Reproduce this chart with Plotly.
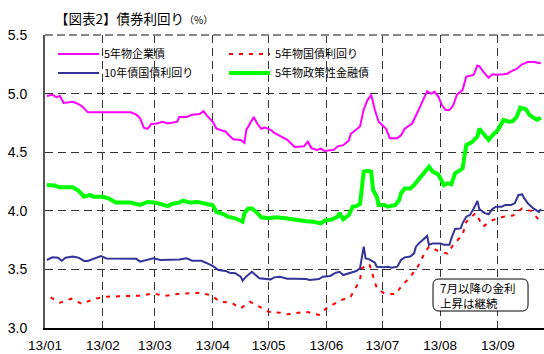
import plotly.graph_objects as go

# 5年物企業債
corp_dates = ["2013-01-02","2013-01-05","2013-01-07","2013-01-09","2013-01-11","2013-01-16","2013-01-19","2013-01-21","2013-01-24",
              "2013-02-01","2013-02-06","2013-02-16","2013-02-19","2013-02-21","2013-02-23","2013-02-25","2013-02-27",
              "2013-03-02","2013-03-05","2013-03-08","2013-03-13","2013-03-14","2013-03-18","2013-03-21","2013-03-25","2013-03-27","2013-03-29",
              "2013-04-01","2013-04-03","2013-04-08","2013-04-09","2013-04-12","2013-04-16","2013-04-18","2013-04-19","2013-04-23","2013-04-25","2013-04-27","2013-04-29",
              "2013-05-02","2013-05-04","2013-05-08","2013-05-11","2013-05-14","2013-05-15","2013-05-20","2013-05-22","2013-05-24","2013-05-27","2013-05-29","2013-05-31",
              "2013-06-05","2013-06-07","2013-06-10","2013-06-13","2013-06-14","2013-06-17","2013-06-19","2013-06-21","2013-06-23","2013-06-25","2013-06-27","2013-06-29",
              "2013-07-01","2013-07-03","2013-07-05","2013-07-09","2013-07-11","2013-07-13","2013-07-17","2013-07-19","2013-07-21","2013-07-25","2013-07-27","2013-07-29","2013-07-31",
              "2013-08-02","2013-08-04","2013-08-06","2013-08-08","2013-08-10","2013-08-13","2013-08-15","2013-08-19","2013-08-21","2013-08-22","2013-08-24","2013-08-27","2013-08-29","2013-08-31",
              "2013-09-04","2013-09-06","2013-09-08","2013-09-11","2013-09-14","2013-09-17","2013-09-21","2013-09-23","2013-09-24"]
corp_vals = [4.98,4.99,4.97,4.98,4.92,4.93,4.91,4.89,4.84,
             4.84,4.845,4.84,4.82,4.79,4.71,4.70,4.74,
             4.745,4.76,4.745,4.76,4.80,4.80,4.82,4.825,4.85,4.81,
             4.76,4.70,4.675,4.655,4.61,4.605,4.58,4.69,4.80,4.74,4.70,4.71,
             4.69,4.665,4.63,4.605,4.56,4.545,4.55,4.59,4.533,4.52,4.53,4.51,
             4.52,4.55,4.56,4.60,4.655,4.69,4.72,4.865,4.945,4.99,4.86,4.76,
             4.73,4.70,4.62,4.62,4.645,4.70,4.745,4.81,4.88,5.02,5.00,5.015,4.975,
             4.90,4.86,4.86,4.90,4.99,5.03,5.145,5.16,5.24,5.235,5.19,5.135,5.165,5.16,
             5.165,5.17,5.19,5.21,5.25,5.27,5.27,5.26,5.265]

# 5年物国債利回り
jgb5_dates = ["2013-01-04","2013-01-09","2013-01-15","2013-01-21","2013-01-27","2013-02-03","2013-02-09","2013-02-16","2013-02-22","2013-02-28",
              "2013-03-06","2013-03-13","2013-03-19","2013-03-24","2013-03-31","2013-04-05","2013-04-11","2013-04-16","2013-04-21","2013-04-26",
              "2013-05-01","2013-05-07","2013-05-11","2013-05-15","2013-05-21","2013-05-28","2013-06-01","2013-06-08","2013-06-14","2013-06-19",
              "2013-06-20","2013-06-24","2013-06-26","2013-06-28","2013-07-02","2013-07-08","2013-07-11","2013-07-16","2013-07-20","2013-07-24",
              "2013-07-26","2013-07-31","2013-08-05","2013-08-08","2013-08-13","2013-08-15","2013-08-20","2013-08-24","2013-08-29","2013-09-04",
              "2013-09-09","2013-09-14","2013-09-19","2013-09-23","2013-09-25"]
jgb5_vals = [3.262,3.216,3.25,3.205,3.247,3.267,3.27,3.27,3.276,3.296,
             3.273,3.29,3.296,3.301,3.28,3.224,3.216,3.168,3.224,3.182,
             3.139,3.131,3.117,3.125,3.139,3.111,3.168,3.233,3.267,3.41,
             3.51,3.546,3.438,3.339,3.296,3.287,3.352,3.438,3.523,3.651,
             3.694,3.657,3.634,3.71,3.794,3.907,3.98,3.866,3.92,3.95,
             3.959,4.02,3.998,3.92,3.93]

# 10年債国債利回り
jgb10_dates = ["2013-01-02","2013-01-05","2013-01-08","2013-01-10","2013-01-12","2013-01-16","2013-01-19","2013-01-22","2013-01-24","2013-01-27","2013-01-31",
               "2013-02-03","2013-02-10","2013-02-19","2013-02-21","2013-02-25","2013-02-28",
               "2013-03-04","2013-03-08","2013-03-14","2013-03-18","2013-03-21","2013-03-26","2013-03-30",
               "2013-04-01","2013-04-04","2013-04-08","2013-04-10","2013-04-13","2013-04-16","2013-04-17","2013-04-19","2013-04-22","2013-04-24","2013-04-26",
               "2013-05-02","2013-05-04","2013-05-07","2013-05-11","2013-05-15","2013-05-21","2013-05-23","2013-05-26","2013-05-28","2013-05-30",
               "2013-06-03","2013-06-06","2013-06-08","2013-06-10","2013-06-13","2013-06-17","2013-06-19","2013-06-21","2013-06-22","2013-06-24","2013-06-27","2013-06-28",
               "2013-07-02","2013-07-04","2013-07-06","2013-07-09","2013-07-11","2013-07-13","2013-07-16","2013-07-18","2013-07-19","2013-07-21","2013-07-25","2013-07-26","2013-07-28",
               "2013-08-01","2013-08-03","2013-08-06","2013-08-07","2013-08-09","2013-08-12","2013-08-13","2013-08-15","2013-08-17","2013-08-19","2013-08-21","2013-08-22","2013-08-25","2013-08-27","2013-08-29","2013-08-31",
               "2013-09-03","2013-09-05","2013-09-08","2013-09-10","2013-09-12","2013-09-14","2013-09-15","2013-09-17","2013-09-20","2013-09-23","2013-09-24"]
jgb10_vals = [3.58,3.603,3.60,3.574,3.60,3.61,3.60,3.572,3.572,3.59,3.614,
              3.594,3.59,3.59,3.566,3.58,3.594,
              3.58,3.58,3.585,3.594,3.574,3.574,3.546,
              3.53,3.495,3.487,3.472,3.467,3.438,3.404,3.44,3.48,3.452,3.424,
              3.415,3.432,3.438,3.42,3.42,3.418,3.41,3.418,3.418,3.438,
              3.444,3.472,3.48,3.452,3.467,3.486,3.51,3.694,3.594,3.586,3.557,3.523,
              3.518,3.523,3.515,3.523,3.58,3.603,3.61,3.637,3.694,3.728,3.785,3.71,3.722,
              3.722,3.71,3.71,3.765,3.845,3.85,3.893,3.95,3.964,4.02,4.084,4.015,3.98,3.97,4.015,4.035,
              4.035,4.05,4.05,4.064,4.135,4.14,4.11,4.064,4.02,3.99,4.015]

# 5年物政策性金融債
policy_dates = ["2013-01-02","2013-01-06","2013-01-09","2013-01-16","2013-01-19","2013-01-22","2013-01-25","2013-01-27",
                "2013-02-01","2013-02-04","2013-02-08","2013-02-16","2013-02-21","2013-02-25",
                "2013-03-01","2013-03-04","2013-03-08","2013-03-10","2013-03-14","2013-03-16","2013-03-20","2013-03-24","2013-03-29",
                "2013-04-01","2013-04-03","2013-04-07","2013-04-09","2013-04-13","2013-04-17","2013-04-18","2013-04-20","2013-04-22","2013-04-25","2013-04-27",
                "2013-05-01","2013-05-05","2013-05-10","2013-05-14","2013-05-16","2013-05-21","2013-05-25","2013-05-29","2013-05-31",
                "2013-06-04","2013-06-07","2013-06-08","2013-06-10","2013-06-13","2013-06-15","2013-06-17","2013-06-19","2013-06-21","2013-06-23","2013-06-25","2013-06-26","2013-06-28","2013-06-29",
                "2013-07-02","2013-07-04","2013-07-08","2013-07-10","2013-07-11","2013-07-13","2013-07-16","2013-07-18","2013-07-20","2013-07-22","2013-07-26","2013-07-28","2013-07-31",
                "2013-08-03","2013-08-05","2013-08-07","2013-08-09","2013-08-13","2013-08-15","2013-08-18","2013-08-21","2013-08-22","2013-08-25","2013-08-27","2013-08-30",
                "2013-09-01","2013-09-04","2013-09-07","2013-09-09","2013-09-11","2013-09-13","2013-09-16","2013-09-18","2013-09-22","2013-09-24"]
policy_vals = [4.22,4.215,4.20,4.20,4.17,4.12,4.135,4.12,
               4.12,4.107,4.07,4.07,4.05,4.075,
               4.07,4.058,4.04,4.058,4.07,4.086,4.07,4.075,4.058,
               4.047,3.99,3.97,3.95,3.936,3.907,3.98,4.02,4.02,3.98,3.945,
               3.936,3.945,3.936,3.927,3.915,3.91,3.907,3.893,3.915,
               3.927,3.95,3.98,3.927,3.964,4.035,4.04,4.058,4.334,4.342,4.334,4.178,4.12,4.05,
               4.05,4.035,4.05,4.092,4.15,4.19,4.19,4.22,4.257,4.29,4.376,4.334,4.31,
               4.22,4.235,4.226,4.32,4.36,4.56,4.585,4.633,4.70,4.647,4.605,4.66,
               4.69,4.775,4.76,4.765,4.80,4.88,4.866,4.817,4.775,4.795]

x_range = ["2013-01-01", "2013-09-25 17:00"]
y_range = [3.0, 5.5]

FONT = "Liberation Sans, Arial, Noto Sans CJK JP"
JP = "Noto Sans CJK JP, Liberation Sans"

fig = go.Figure()
fig.add_trace(go.Scatter(x=corp_dates, y=corp_vals, mode="lines", name="5年物企業債",
                         line=dict(color="#FF00FF", width=2), legend="legend"))
fig.add_trace(go.Scatter(x=jgb5_dates, y=jgb5_vals, mode="lines", name="5年物国債利回り",
                         line=dict(color="#FF0000", width=2, dash="4px,6px"), legend="legend"))
fig.add_trace(go.Scatter(x=jgb10_dates, y=jgb10_vals, mode="lines", name="10年債国債利回り",
                         line=dict(color="#333399", width=2), legend="legend2"))
fig.add_trace(go.Scatter(x=policy_dates, y=policy_vals, mode="lines", name="5年物政策性金融債",
                         line=dict(color="#00FF00", width=4), legend="legend2"))

legend_common = dict(orientation="h", xanchor="left", yanchor="middle",
                     entrywidth=115, entrywidthmode="pixels", itemwidth=41,
                     bgcolor="rgba(0,0,0,0)", font=dict(family=JP, size=11, color="#000"),
                     itemclick=False, itemdoubleclick=False, tracegroupgap=0)

fig.update_layout(
    width=544, height=354,
    margin=dict(l=45, r=0, t=35, b=26, autoexpand=False),
    paper_bgcolor="white", plot_bgcolor="white",
    font=dict(family=FONT, size=13, color="#000"),
    showlegend=True,
    legend=dict(x=0.016, y=0.935, **legend_common),
    legend2=dict(x=0.016, y=0.870, **legend_common),
    xaxis=dict(type="date", range=x_range, tick0="2013-01-01", dtick="M1", tickformat="%y/%m",
               showgrid=True, gridcolor="#333333", gridwidth=1, griddash="8px,5px",
               showline=True, linecolor="#000000", linewidth=2, ticks="", automargin=False,
               ticklabelstandoff=4, tickfont=dict(family=FONT, size=13.5), zeroline=False),
    yaxis=dict(range=y_range, dtick=0.5, tick0=3.0, tickformat=".1f",
               showgrid=True, gridcolor="#333333", gridwidth=1, griddash="8px,5px",
               showline=True, linecolor="#555555", linewidth=2, ticks="", automargin=False,
               ticklabelstandoff=13, tickfont=dict(family=FONT, size=14), zeroline=False),
    annotations=[
        dict(xref="paper", yref="paper", x=0.016, y=1.0, yshift=17, xanchor="left", yanchor="middle",
             text="【図表2】債券利回り<span style='font-size:10px'>（%）</span>", showarrow=False,
             font=dict(family=JP, size=13.5, color="#000")),
        dict(xref="paper", yref="paper", x=0.7776, y=0.1125, xanchor="left", yanchor="middle",
             text="7月以降の金利<br>上昇は継続", showarrow=False, align="left",
             xshift=5, font=dict(family=JP, size=11.5, color="#000")),
    ],
)

# Rounded callout box and gray top border of the plot area
x0, x1, y0, y1 = 0.7776, 0.968, 0.058, 0.1672
rx, ry = 0.012, 0.0205
path = (f"M {x0+rx},{y0} L {x1-rx},{y0} Q {x1},{y0} {x1},{y0+ry} L {x1},{y1-ry} Q {x1},{y1} {x1-rx},{y1} "
        f"L {x0+rx},{y1} Q {x0},{y1} {x0},{y1-ry} L {x0},{y0+ry} Q {x0},{y0} {x0+rx},{y0} Z")
fig.add_shape(type="path", path=path, xref="paper", yref="paper",
              line=dict(color="#000000", width=1), fillcolor="white", layer="above")
fig.add_shape(type="line", xref="paper", yref="paper", x0=0, x1=1, y0=1, y1=1,
              line=dict(color="#888888", width=2, dash="8px,4px"))

fig.write_html("out.html")
